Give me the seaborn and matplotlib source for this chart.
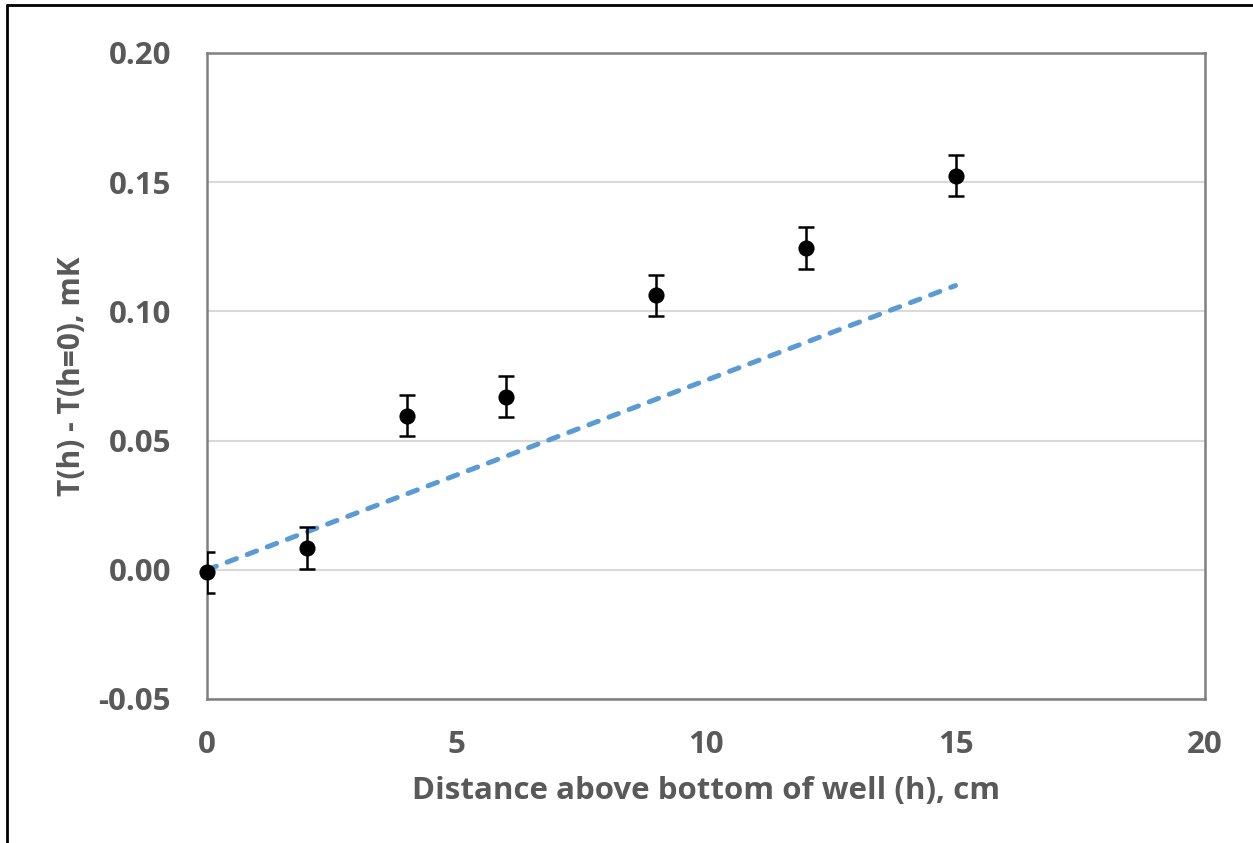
import matplotlib
matplotlib.use("Agg")
import matplotlib.pyplot as plt
import seaborn as sns
import pandas as pd
from matplotlib.lines import Line2D

# Data
heights = [0, 2, 4, 6, 9, 12, 15]
delta_T = [-0.001, 0.0085, 0.0597, 0.0670, 0.1062, 0.1245, 0.1525]
errors = [0.008, 0.008, 0.008, 0.008, 0.008, 0.008, 0.008]
fit_x = [0, 15]
fit_y = [0.0, 0.110]
x_ticks = [0, 5, 10, 15, 20]
y_ticks = [-0.05, 0.00, 0.05, 0.10, 0.15, 0.20]

sns.set_theme(style="white")
plt.rcParams['font.family'] = ['Open Sans', 'DejaVu Sans']

fig = plt.figure(figsize=(12.53, 8.43), dpi=100)
ax = fig.add_axes([207/1253, 1-699/843, (1205-207)/1253, (699-53)/843])

df = pd.DataFrame({"h": heights, "dT": delta_T})
fit_df = pd.DataFrame({"h": fit_x, "dT": fit_y})

eb = ax.errorbar(heights, delta_T, yerr=errors, fmt="none", ecolor="black",
                 elinewidth=1.8, capsize=6, capthick=1.8, zorder=3)
for cl in eb[1]:
    cl.set_clip_on(True)
sns.lineplot(data=fit_df, x="h", y="dT", ax=ax, color="#5b9bd5",
             linewidth=3.6, dashes=False, zorder=2)
ln = ax.lines[-1]
ln.set_dashes([2.0, 2.3])
ln.set_dash_capstyle("round")
ln.set_clip_on(False)
sns.scatterplot(data=df, x="h", y="dT", ax=ax, color="black", s=135,
                edgecolor="black", linewidth=0, zorder=4)
ax.collections[-1].set_clip_on(False)

ax.set_xlim(0, 20)
ax.set_ylim(-0.05, 0.20)
ax.set_xticks(x_ticks)
ax.set_yticks(y_ticks)
ax.set_xticklabels([str(v) for v in x_ticks])
ax.set_yticklabels([f"{v:.2f}" for v in y_ticks])
ax.yaxis.grid(True, color="#d9d9d9", linewidth=1.5)
ax.set_axisbelow(True)
for s in ax.spines.values():
    s.set_color("#7f7f7f")
    s.set_linewidth(1.8)
    s.set_visible(True)

tc = "#595959"
ax.tick_params(axis="both", length=0, labelsize=22.5, labelcolor=tc)
ax.tick_params(axis="x", pad=22)
ax.tick_params(axis="y", pad=26)
for lab in ax.get_xticklabels() + ax.get_yticklabels():
    lab.set_fontweight("bold")

ax.set_xlabel("Distance above bottom of well (h), cm", fontsize=22.5,
              fontweight="bold", color=tc, labelpad=12)
ax.set_ylabel("T(h) - T(h=0), mK", fontsize=21.5, fontweight="bold",
              color=tc, labelpad=8)

# figure frame (top and left edges visible)
fig.add_artist(Line2D([7/1253, 7/1253], [0, 1-5/843], transform=fig.transFigure,
                      color="black", linewidth=2))
fig.add_artist(Line2D([7/1253, 1], [1-5/843, 1-5/843], transform=fig.transFigure,
                      color="black", linewidth=2))

fig.savefig("out.png", dpi=100, facecolor="white")
